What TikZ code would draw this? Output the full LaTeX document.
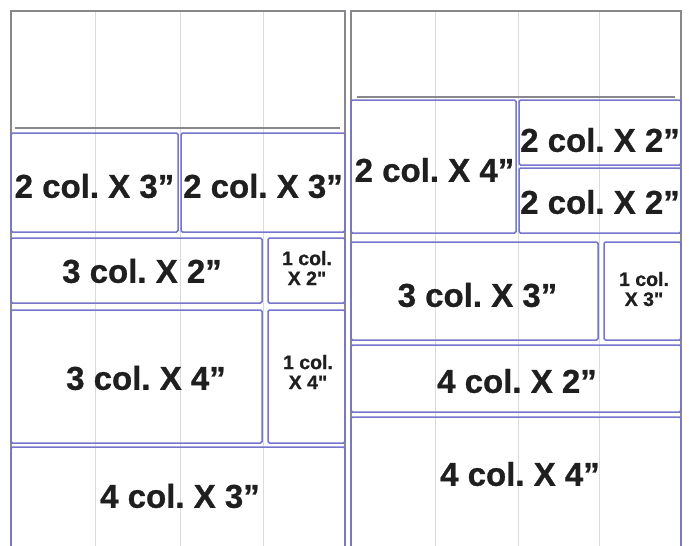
\documentclass[tikz,border=0pt]{standalone}
\usepackage{fontspec}
\setmainfont{Liberation Sans}
\newfontfamily\heavyfont{Liberation Sans}[UprightFont={* Bold}, FakeBold=0.8]
\frenchspacing
\definecolor{boxblue}{RGB}{118,118,205}
\definecolor{framegray}{RGB}{135,135,140}
\definecolor{gridgray}{RGB}{218,218,226}
\tikzset{
  box/.style={draw=boxblue, line width=1.5pt, rounded corners=1.5pt, inner sep=0pt, outer sep=0pt},
  big/.style={font=\heavyfont\fontsize{33}{36}\selectfont, inner sep=0pt, text=black!88},
  small/.style={font=\heavyfont\fontsize{19.5}{20}\selectfont, align=center, inner sep=0pt, text=black!88},
  frame/.style={draw=framegray, line width=1.3pt},
  gridline/.style={draw=gridgray, line width=0.9pt},
  sepline/.style={draw=framegray, line width=1.6pt}
}
\begin{document}
\begin{tikzpicture}[x=1pt,y=-1pt]
\fill[white] (0,0) rectangle (689,546);
\useasboundingbox (0,0) rectangle (689,546);
\clip (0,0) rectangle (689,546);
% grid lines
\foreach \gx in {95,180,263,435,518,599}
  \draw[gridline] (\gx,11) -- (\gx,546);
% page frames
\draw[frame] (11,560) -- (11,11) -- (345,11) -- (345,560);
\draw[frame] (351,560) -- (351,11) -- (681,11) -- (681,560);
% separator lines
\coordinate (sepLa) at (15,128);
\coordinate (sepLb) at (340,128);
\coordinate (sepRa) at (357,97);
\coordinate (sepRb) at (675,97);
\draw[sepline] (sepLa) -- (sepLb);
\draw[sepline] (sepRa) -- (sepRb);
% left page boxes
\node[box, minimum width=167, minimum height=99] (L1a) at (94.5,182.5) {};
\node[box, minimum width=164, minimum height=99] (L1b) at (263,182.5) {};
\node[box, minimum width=251, minimum height=65] (L2a) at (136.5,270.5) {};
\node[box, minimum width=77, minimum height=65] (L2b) at (306.5,270.5) {};
\node[box, minimum width=251, minimum height=133] (L3a) at (136.5,376.5) {};
\node[box, minimum width=77, minimum height=133] (L3b) at (306.5,376.5) {};
\node[box, minimum width=334, minimum height=113] (L4) at (178,503.5) {};
% right page boxes
\node[box, minimum width=165, minimum height=133] (R1a) at (433.5,166.5) {};
\node[box, minimum width=162, minimum height=65] (R1b) at (600,132.5) {};
\node[box, minimum width=162, minimum height=65] (R1c) at (600,200.5) {};
\node[box, minimum width=247, minimum height=98] (R2a) at (474.5,291) {};
\node[box, minimum width=77, minimum height=98] (R2b) at (642.5,291) {};
\node[box, minimum width=330, minimum height=67] (R3) at (516,378.5) {};
\node[box, minimum width=330, minimum height=143] (R4) at (516,488.5) {};
% labels
\node[big] (tL1a) at (94.5,186) {2 col. X 3”};
\node[big] (tL1b) at (263,186) {2 col. X 3”};
\node[big] (tL2a) at (142,271) {3 col. X 2”};
\node[small] (tL2b) at (307,268) {1 col.\\X 2"};
\node[big] (tL3a) at (146,378) {3 col. X 4”};
\node[small] (tL3b) at (308,372) {1 col.\\X 4"};
\node[big] (tL4) at (180,496) {4 col. X 3”};
\node[big] (tR1a) at (434.5,170) {2 col. X 4”};
\node[big] (tR1b) at (600,140) {2 col. X 2”};
\node[big] (tR1c) at (600,202) {2 col. X 2”};
\node[big] (tR2a) at (477.5,295) {3 col. X 3”};
\node[small] (tR2b) at (644,289) {1 col.\\X 3"};
\node[big] (tR3) at (517,381) {4 col. X 2”};
\node[big] (tR4) at (520,474) {4 col. X 4”};
\end{tikzpicture}
\end{document}
